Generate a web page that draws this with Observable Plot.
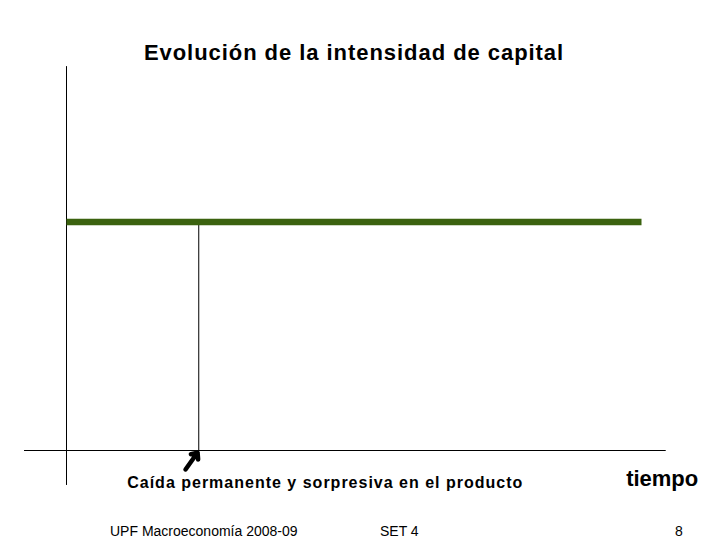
<!DOCTYPE html>
<html>
<head>
<meta charset="utf-8">
<script src="https://cdn.jsdelivr.net/npm/d3@7"></script>
<script src="https://cdn.jsdelivr.net/npm/@observablehq/plot@0.6"></script>
<style>
  body { margin: 0; background: #fff; }
  #wrap { position: relative; width: 720px; height: 540px; overflow: hidden;
          font-family: "Liberation Sans", Arial, sans-serif; color: #000; }
  #chart { position: absolute; left: 0; top: 0; }
  .ovl { position: absolute; white-space: nowrap; line-height: 1; }
  #title { left: 0; width: 708px; top: 42px; text-align: center; font-size: 22px; font-weight: bold; letter-spacing: 0.95px; }
  #f1 { left: 110px; top: 524px; font-size: 14px; }
  #f2 { left: 380px; top: 524px; font-size: 14px; }
  #f3 { left: 675px; top: 524px; font-size: 14px; }
</style>
</head>
<body>
<div id="wrap">
  <div id="chart"></div>
  <div id="title" class="ovl"></div>
  <div id="f1" class="ovl"></div>
  <div id="f2" class="ovl"></div>
  <div id="f3" class="ovl"></div>
</div>
<script>
// ---- data ----
const titleText = "Evolución de la intensidad de capital";
const footerTexts = ["UPF Macroeconomía 2008-09", "SET 4", "8"];

// capital intensity path (time, level)
const capitalTime = [0, 10];
const capitalLevel = [1, 1];

// axes extents (in data units)
const xAxisExtent = [-0.73, 10.43];
const yAxisExtent = [-0.153, 1.68];

// shock
const shockTime = [2.3];
const shockTop = [0.99];

// arrow pointing to the shock
const arrowFrom = [2.07, -0.083];
const arrowTo = [2.28, -0.009];

// annotations
const shockLabel = ["Caída permanente y sorpresiva en el producto"];
const shockLabelPos = [4.5, -0.162];
const axisLabel = ["tiempo"];
const axisLabelPos = [10.36, -0.1575];

// ---- build ----
const capitalData = capitalTime.map((t, i) => ({t, k: capitalLevel[i]}));

document.getElementById("title").textContent = titleText;
document.getElementById("f1").textContent = footerTexts[0];
document.getElementById("f2").textContent = footerTexts[1];
document.getElementById("f3").textContent = footerTexts[2];

const chart = Plot.plot({
  width: 720,
  height: 540,
  margin: 0,
  style: {background: "transparent", fontFamily: "'Liberation Sans', Arial, sans-serif"},
  x: {domain: [0, 10], range: [66, 641], axis: null},
  y: {domain: [0, 1], range: [450, 221.5], axis: null},
  marks: [
    // y axis
    Plot.ruleX([0], {y1: yAxisExtent[0], y2: yAxisExtent[1], stroke: "#000", strokeWidth: 1}),
    // x axis
    Plot.ruleY([0], {x1: xAxisExtent[0], x2: xAxisExtent[1], stroke: "#000", strokeWidth: 1}),
    // shock vertical line
    Plot.ruleX(shockTime, {y1: 0, y2: shockTop[0], stroke: "#000", strokeWidth: 1}),
    // capital intensity
    Plot.line(capitalData, {x: "t", y: "k", stroke: "#3b620f", strokeWidth: 6.5, strokeLinecap: "butt"}),
    // arrow
    Plot.arrow([{x1: arrowFrom[0], y1: arrowFrom[1], x2: arrowTo[0], y2: arrowTo[1]}],
      {x1: "x1", y1: "y1", x2: "x2", y2: "y2", stroke: "#000", strokeWidth: 4.5, headLength: 9, headAngle: 80}),
    // annotations
    Plot.text(shockLabel, {x: shockLabelPos[0], y: shockLabelPos[1], text: d => d,
      fontSize: 16, fontWeight: "bold", textAnchor: "middle", lineAnchor: "bottom", fill: "#000"}),
    Plot.text(axisLabel, {x: axisLabelPos[0], y: axisLabelPos[1], text: d => d,
      fontSize: 22, fontWeight: "bold", textAnchor: "middle", lineAnchor: "bottom", fill: "#000"})
  ]
});
// widen the caption's letter spacing to match the reference
d3.select(chart).selectAll("text")
  .filter(function() { return this.textContent === shockLabel[0]; })
  .style("letter-spacing", "1px");
document.getElementById("chart").appendChild(chart);
</script>
</body>
</html>
